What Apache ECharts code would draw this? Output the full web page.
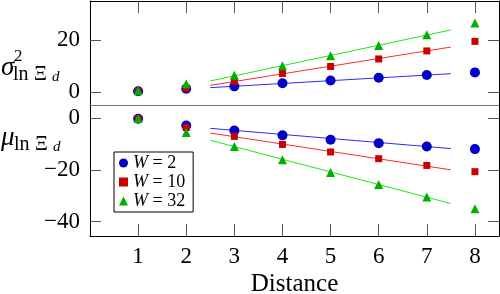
<!DOCTYPE html>
<html>
<head>
<meta charset="utf-8">
<script src="https://cdn.jsdelivr.net/npm/echarts@6/dist/echarts.min.js"></script>
<style>
  html, body { margin: 0; padding: 0; background: #fff; }
  #chart { width: 500px; height: 294px; }
</style>
</head>
<body>
<div id="chart"></div>
<script>
// data
var distance = [1, 2, 3, 4, 5, 6, 7, 8];
var widths = ['2', '10', '32'];

// sigma^2 of ln Xi_d (top panel)
var sigmaW2 = [0.3, 1.3, 2.2, 3.4, 4.5, 5.5, 6.6, 7.6];
var sigmaW10 = [0.3, 1.5, 4.1, 7.2, 9.9, 12.8, 15.9, 19.6];
var sigmaW32 = [0.5, 3.2, 6.5, 10.2, 14.0, 18.0, 22.2, 26.7];

// mu of ln Xi_d (bottom panel)
var muW2 = [-0.3, -2.9, -4.8, -6.7, -8.4, -9.7, -11.0, -12.0];
var muW10 = [-0.3, -3.7, -7.1, -10.2, -13.1, -15.7, -18.3, -20.7];
var muW32 = [-0.2, -5.6, -11.0, -16.1, -21.0, -25.6, -30.5, -35.0];

// fitted lines, endpoints
var fitX = [2.5, 7.5];
var sigmaFitW2 = [1.7, 7.1];
var sigmaFitW10 = [2.6, 17.4];
var sigmaFitW32 = [4.3, 24.0];
var muFitW2 = [-4.0, -11.8];
var muFitW10 = [-5.8, -20.0];
var muFitW32 = [-8.6, -33.0];

var topTicks = [0, 20];
var bottomTicks = [0, -20, -40];

var font = 'Liberation Serif';
var dotColors = ['#0000c8', '#c80000', '#00b000'];
var lineColors = ['#2a2aff', '#ff2a2a', '#1ee81e'];
var symbols = ['circle', 'rect', 'triangle'];
var symbolSizes = [10, 7, 9];

function pairs(xs, ys) {
  return xs.map(function (x, i) { return [x, ys[i]]; });
}

var chart = echarts.init(document.getElementById('chart'));

var tickStyle = { show: true, inside: true, length: 11, lineStyle: { color: '#555', width: 1 } };
var blackLine = { show: true, onZero: false, lineStyle: { color: '#000', width: 1 } };

function yAxisOpt(grid, pos, min, max, ticks, showLabel) {
  return {
    type: 'value', gridIndex: grid, position: pos, min: min, max: max,
    axisLine: blackLine,
    axisTick: Object.assign({ customValues: ticks }, tickStyle),
    axisLabel: {
      show: showLabel, customValues: ticks, margin: 10,
      fontFamily: font, fontSize: 23, color: '#000',
      formatter: function (v) { return v < 0 ? '\u2212' + (-v) : '' + v; }
    },
    splitLine: { show: false }
  };
}

// one piece of the y axis titles
function label(text, x, y, size, italic) {
  return {
    type: 'text', x: x, y: y,
    style: {
      text: text, fill: '#000', align: 'left', verticalAlign: 'middle',
      font: (italic ? 'italic ' : '') + size + 'px "Liberation Serif"'
    }
  };
}

var topSets = [sigmaW2, sigmaW10, sigmaW32];
var bottomSets = [muW2, muW10, muW32];
var topFits = [sigmaFitW2, sigmaFitW10, sigmaFitW32];
var bottomFits = [muFitW2, muFitW10, muFitW32];

var series = [];
widths.forEach(function (w, i) {
  var name = 'W = ' + w;
  series.push({
    name: name, type: 'line', xAxisIndex: 0, yAxisIndex: 0,
    data: pairs(fitX, topFits[i]), showSymbol: false, silent: true,
    lineStyle: { color: lineColors[i], width: 1 }, z: 2
  });
  series.push({
    name: name, type: 'line', xAxisIndex: 2, yAxisIndex: 2,
    data: pairs(fitX, bottomFits[i]), showSymbol: false, silent: true,
    lineStyle: { color: lineColors[i], width: 1 }, z: 2
  });
});
widths.forEach(function (w, i) {
  var name = 'W = ' + w;
  series.push({
    name: name, type: 'scatter', xAxisIndex: 0, yAxisIndex: 0,
    data: pairs(distance, topSets[i]), symbol: symbols[i], symbolSize: symbolSizes[i],
    itemStyle: { color: dotColors[i], opacity: 1 }, z: 3
  });
  series.push({
    name: name, type: 'scatter', xAxisIndex: 2, yAxisIndex: 2,
    data: pairs(distance, bottomSets[i]), symbol: symbols[i], symbolSize: symbolSizes[i],
    itemStyle: { color: dotColors[i], opacity: 1 }, z: 3
  });
});

var option = {
  animation: false,
  backgroundColor: '#fff',
  grid: [
    { left: 90, right: 1, top: 1, height: 104, outerBoundsMode: 'none', containLabel: false },
    { left: 90, right: 1, top: 105, height: 131, outerBoundsMode: 'none', containLabel: false }
  ],
  xAxis: [
    {
      type: 'value', gridIndex: 0, position: 'top', min: 0, max: 8.5,
      axisLine: blackLine,
      axisTick: Object.assign({ customValues: distance }, tickStyle, { length: 12 }),
      axisLabel: { show: false }, splitLine: { show: false }
    },
    {
      type: 'value', gridIndex: 0, position: 'bottom', min: 0, max: 8.5,
      axisLine: { show: true, onZero: false, lineStyle: { color: '#777', width: 1 } },
      axisTick: { show: false }, axisLabel: { show: false }, splitLine: { show: false }
    },
    {
      type: 'value', gridIndex: 1, position: 'bottom', min: 0, max: 8.5,
      axisLine: blackLine,
      axisTick: Object.assign({ customValues: distance }, tickStyle, { length: 12 }),
      axisLabel: { customValues: distance, margin: 9, fontFamily: font, fontSize: 23, color: '#000' },
      splitLine: { show: false },
      name: 'Distance', nameLocation: 'middle', nameGap: 36,
      nameTextStyle: { fontFamily: font, fontSize: 25, color: '#000' }
    }
  ],
  yAxis: [
    yAxisOpt(0, 'left', -5, 35.2, topTicks, true),
    yAxisOpt(0, 'right', -5, 35.2, topTicks, false),
    yAxisOpt(1, 'left', -45.5, 5, bottomTicks, true),
    yAxisOpt(1, 'right', -45.5, 5, bottomTicks, false)
  ],
  legend: {
    data: widths.map(function (w, i) {
      return { name: 'W = ' + w, icon: symbols[i], itemStyle: { color: dotColors[i] } };
    }),
    orient: 'vertical', left: 114, top: 152,
    backgroundColor: '#fff', borderColor: '#000', borderWidth: 1, borderRadius: 0,
    padding: [2, 8, 2, 5], itemGap: 1, itemWidth: 9, itemHeight: 9,
    selectedMode: false,
    formatter: function (n) { return '{i|W}' + n.slice(1); },
    textStyle: {
      fontFamily: font, fontSize: 18, color: '#000', lineHeight: 18,
      rich: { i: { fontFamily: font, fontStyle: 'italic', fontSize: 18, lineHeight: 18 } }
    }
  },
  graphic: [
    label('\u03c3', 1, 68, 27, true),
    label('2', 14, 57, 17, false),
    label('ln', 13, 75, 20, false),
    label('\u039e', 34, 75, 20, false),
    label('d', 52, 77, 15, true),
    label('\u03bc', 1, 138, 27, true),
    label('ln', 14, 145, 20, false),
    label('\u039e', 35, 145, 20, false),
    label('d', 53, 147, 15, true)
  ],
  series: series
};

chart.setOption(option);
</script>
</body>
</html>
